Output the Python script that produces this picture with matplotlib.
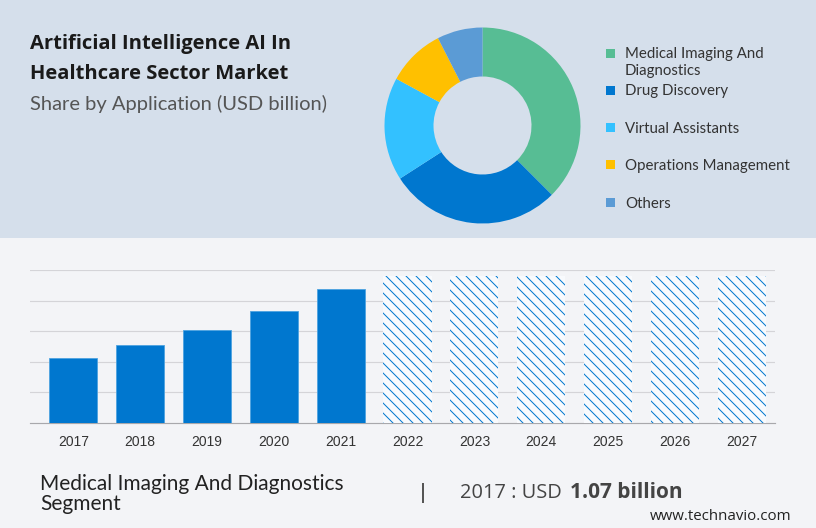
import matplotlib
matplotlib.use('Agg')
import matplotlib.pyplot as plt
from matplotlib.patches import Rectangle

# Data
years = ['2017', '2018', '2019', '2020', '2021', '2022', '2023', '2024', '2025', '2026', '2027']
actual = [1.07, 1.27, 1.52, 1.83, 2.19]
forecast = [2.4, 2.4, 2.4, 2.4, 2.4, 2.4]
segments = ['Medical Imaging And\nDiagnostics', 'Drug Discovery', 'Virtual Assistants',
            'Operations Management', 'Others']
shares = [37.5, 28.4, 17.0, 9.6, 7.5]
segment_colors = ['#57bd94', '#0077cf', '#33c1ff', '#ffc000', '#5b9bd5']
legend_y = [53, 90, 127, 164, 202]
label_y = [62.5, 91.5, 129, 166, 204]

W, H = 816, 528
plt.rcParams['hatch.linewidth'] = 0.6

fig = plt.figure(figsize=(W / 120, H / 120), dpi=120)


def px_axes(left, top, right, bottom):
    return fig.add_axes([left / W, 1 - bottom / H, (right - left) / W, (bottom - top) / H])


# Background in pixel coordinates
bg = fig.add_axes([0, 0, 1, 1])
bg.set_xlim(0, W)
bg.set_ylim(H, 0)
bg.axis('off')
bg.add_patch(Rectangle((0, 0), W, 238, color='#d5dfeb', lw=0))
bg.add_patch(Rectangle((0, 238), W, H - 238, color='#f3f4f7', lw=0))

# Titles
bg.text(30, 44, 'Artificial Intelligence AI In', fontsize=12.1, fontweight='bold',
        family='Open Sans', color='#1a1a1a', va='center')
bg.text(30, 74, 'Healthcare Sector Market', fontsize=12.1, fontweight='bold',
        family='Open Sans', color='#1a1a1a', va='center')
bg.text(30, 104, 'Share by Application (USD billion)', fontsize=12.1,
        family='Lato', color='#555555', va='center')

# Legend
for name, color, ys, yt in zip(segments, segment_colors, legend_y, label_y):
    bg.add_patch(Rectangle((606, ys - 4.5), 9, 9, color=color, lw=0))
    bg.text(625, yt, name, fontsize=9, family='Lato', color='#333333', va='center',
            linespacing=1.3)

# Donut
pie_ax = px_axes(384.5, 27.5, 580.5, 223.5)
pie_ax.pie(shares, colors=segment_colors, startangle=90, counterclock=False, radius=1,
           wedgeprops={'width': 0.5, 'linewidth': 0})
pie_ax.set_xlim(-1, 1)
pie_ax.set_ylim(-1, 1)

# Bars
ax = px_axes(30, 270, 775, 423)
ax.patch.set_alpha(0)
x_actual = range(len(actual))
x_forecast = range(len(actual), len(years))
ax.bar(x_actual, actual, width=0.72, color='#0077cf', edgecolor='#4da3e0', linewidth=0.5, zorder=3)
ax.bar(x_forecast, forecast, width=0.72, facecolor='#f8fafd', edgecolor='#0077cf',
       hatch='\\\\\\\\', linewidth=0, zorder=3)
ax.set_xlim(-0.648, 10.497)
ax.set_ylim(0, 2.5)
ax.set_xticks(range(len(years)))
ax.set_xticklabels(years, family='Liberation Sans', fontsize=8.3, color='#333333')
ax.set_yticks([0.5, 1.0, 1.5, 2.0, 2.5])
ax.tick_params(axis='both', length=0, labelleft=False)
ax.tick_params(axis='x', pad=7)
ax.grid(axis='y', color='#d4d4d8', linewidth=0.7, zorder=0)
for side in ['top', 'right', 'left']:
    ax.spines[side].set_visible(False)
ax.spines['bottom'].set_color('#a8a8ac')
ax.spines['bottom'].set_linewidth(0.7)

# Footer
bg.text(40, 484, 'Medical Imaging And Diagnostics', fontsize=12.5, family='Lato',
        color='#222222', va='center')
bg.text(40, 504, 'Segment', fontsize=12.5, family='Lato', color='#222222', va='center')
bg.plot([423, 423], [484, 502], color='#555555', lw=1.2)
bg.text(460, 493, '2017 : USD ', fontsize=12, family='Open Sans', color='#444444', va='center')
bg.text(570, 493, '1.07 billion', fontsize=12.5, fontweight='bold', family='Open Sans',
        color='#444444', va='center')
bg.text(650, 517, 'www.technavio.com', fontsize=9, family='Open Sans', color='#222222', va='center')

fig.savefig('out.png', dpi=120)
